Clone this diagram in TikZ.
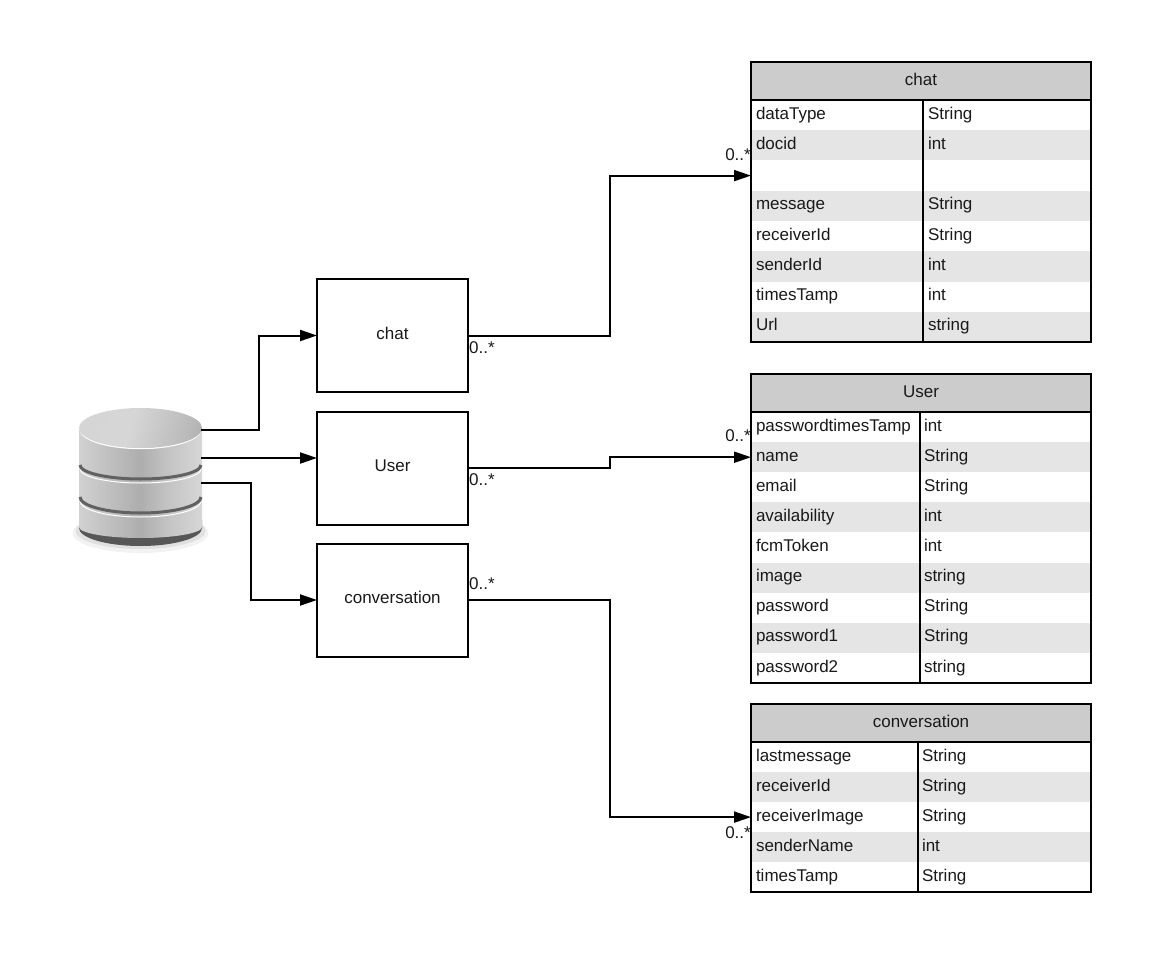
\documentclass[tikz,border=0pt]{standalone}
\usepackage{fontspec}
\setmainfont{Liberation Sans}
\usetikzlibrary{arrows.meta,positioning}

\pgfdeclarehorizontalshading{dbbody}{100bp}{
  color(0bp)=(black!20); color(8bp)=(black!11); color(16bp)=(black!13);
  color(50bp)=(black!32); color(60bp)=(black!24); color(84bp)=(black!11); color(93bp)=(black!22); color(100bp)=(black!40)}
\pgfdeclarehorizontalshading{dbtop}{100bp}{
  color(0bp)=(black!17); color(45bp)=(black!16); color(72bp)=(black!27); color(100bp)=(black!42)}

\tikzset{
  txt/.style={font=\fontsize{17}{20}\selectfont, text=black!90},
  box/.style={txt, draw=black, line width=2pt, fill=white, minimum width=151pt, minimum height=113pt, outer sep=0pt},
  head/.style={txt, draw=black, line width=2pt, fill=black!20, minimum width=340pt, minimum height=38pt, anchor=north west, outer sep=0pt},
  cell/.style={txt, inner xsep=5pt, inner ysep=0pt, minimum height=30.2pt, anchor=north west, align=left, outer sep=0pt},
  band/.style={fill=black!10},
  frame/.style={draw=black, line width=2pt},
  conn/.style={draw=black, line width=2pt, -{Triangle[length=17pt,width=11pt]}},
  mult/.style={txt, inner sep=0pt},
}

\begin{document}
\begin{tikzpicture}[x=1pt,y=-1pt]
\useasboundingbox (0,0) rectangle (1163,955);

% database
\fill[black!5] (140.5,533) ellipse (68 and 20);
\fill[black!12] (140.5,531) ellipse (65 and 18);
\fill[black!66] (79,520) -- (202,520) -- (202,528) arc (0:180:61.5 and 18) -- cycle;
\path[shading=dbbody] (79,428) -- (202,428) -- (202,527) arc (0:180:61.5 and 11) -- cycle;
\draw[white, line width=1pt] (80,469) arc (180:0:60.5 and 14);
\draw[black!62, line width=3pt] (80,465) arc (180:0:60.5 and 14);
\draw[white, line width=1pt] (80,501) arc (180:0:60.5 and 16);
\draw[black!62, line width=3pt] (80,497) arc (180:0:60.5 and 16);
\draw[white, line width=1.4pt] (80,429) arc (180:0:60.5 and 19.5);
\path[shading=dbtop, shading angle=-15] (140.5,428) ellipse (61.5 and 20);

% the three collections
\node[box] (chatbox) at (392.5,335.5) {\raisebox{5pt}{chat}};
\node[box] (userbox) at (392.5,468) {\raisebox{5pt}{User}};
\node[box] (convbox) at (392.5,600) {\raisebox{5pt}{conversation}};

% chat table
\node[head] (chathead) at (751,62) {\raisebox{3pt}{chat}};
\foreach \i/\a/\b in {1/dataType/String,2/docid/int,3//,4/message/String,5/receiverId/String,6/senderId/int,7/timesTamp/int,8/Url/string}{
  \pgfmathsetmacro{\yy}{100+(\i-1)*30.25}
  \ifodd\i\relax\else\fill[band] (751,\yy) rectangle (1091,\yy+30.25);\fi
  \node[cell, text width=162pt] (chatl\i) at (751,\yy) {\raisebox{4.5pt}{\strut\a}};
  \node[cell, text width=158pt] (chatr\i) at (923,\yy) {\raisebox{4.5pt}{\strut\b}};
}
\draw[frame] (751,100) rectangle (1091,342);
\draw[frame] (923,100) -- (923,342);

% user table
\node[head] (userhead) at (751,374) {\raisebox{3pt}{User}};
\foreach \i/\a/\b in {1/passwordtimesTamp/int,2/name/String,3/email/String,4/availability/int,5/fcmToken/int,6/image/string,7/password/String,8/password1/String,9/password2/string}{
  \pgfmathsetmacro{\yy}{412+(\i-1)*30.12}
  \ifodd\i\relax\else\fill[band] (751,\yy) rectangle (1091,\yy+30.12);\fi
  \node[cell, text width=159pt] (userl\i) at (751,\yy) {\raisebox{6pt}{\strut\a}};
  \node[cell, text width=161pt] (userr\i) at (919,\yy) {\raisebox{6pt}{\strut\b}};
}
\draw[frame] (751,412) rectangle (1091,683);
\draw[frame] (920,412) -- (920,683);

% conversation table
\node[head] (convhead) at (751,704) {\raisebox{3pt}{conversation}};
\foreach \i/\a/\b in {1/lastmessage/String,2/receiverId/String,3/receiverImage/String,4/senderName/int,5/timesTamp/String}{
  \pgfmathsetmacro{\yy}{742+(\i-1)*30}
  \ifodd\i\relax\else\fill[band] (751,\yy) rectangle (1091,\yy+30);\fi
  \node[cell, text width=157pt] (convl\i) at (751,\yy) {\raisebox{5.5pt}{\strut\a}};
  \node[cell, text width=163pt] (convr\i) at (917,\yy) {\raisebox{5.5pt}{\strut\b}};
}
\draw[frame] (751,742) rectangle (1091,892);
\draw[frame] (918,742) -- (918,892);

% connectors
\coordinate (dbchat) at (201,430);
\coordinate (dbuser) at (201,458);
\coordinate (dbconv) at (201,483);
\coordinate (userin) at (userbox.west |- dbuser);
\draw[conn] (dbchat) -- ++(58,0) |- (chatbox.west);
\draw[conn] (dbuser) -- (userin);
\draw[conn] (dbconv) -- ++(50,0) |- (convbox.west);
\draw[conn] (chatbox.east) -- ++(142,0) |- (chatl3.west);
\draw[conn] (userbox.east) -- ++(142,0) |- (userl2.west);
\draw[conn] (convbox.east) -- ++(142,0) |- (convl3.west);

% multiplicities
\node[mult, anchor=west] (m1) at (469,348) {0..*};
\node[mult, anchor=west] (m2) at (469,480) {0..*};
\node[mult, anchor=west] (m3) at (469,584) {0..*};
\node[mult, anchor=east] (m4) at (751,155) {0..*};
\node[mult, anchor=east] (m5) at (751,436) {0..*};
\node[mult, anchor=east] (m6) at (751,833) {0..*};

\end{tikzpicture}
\end{document}
